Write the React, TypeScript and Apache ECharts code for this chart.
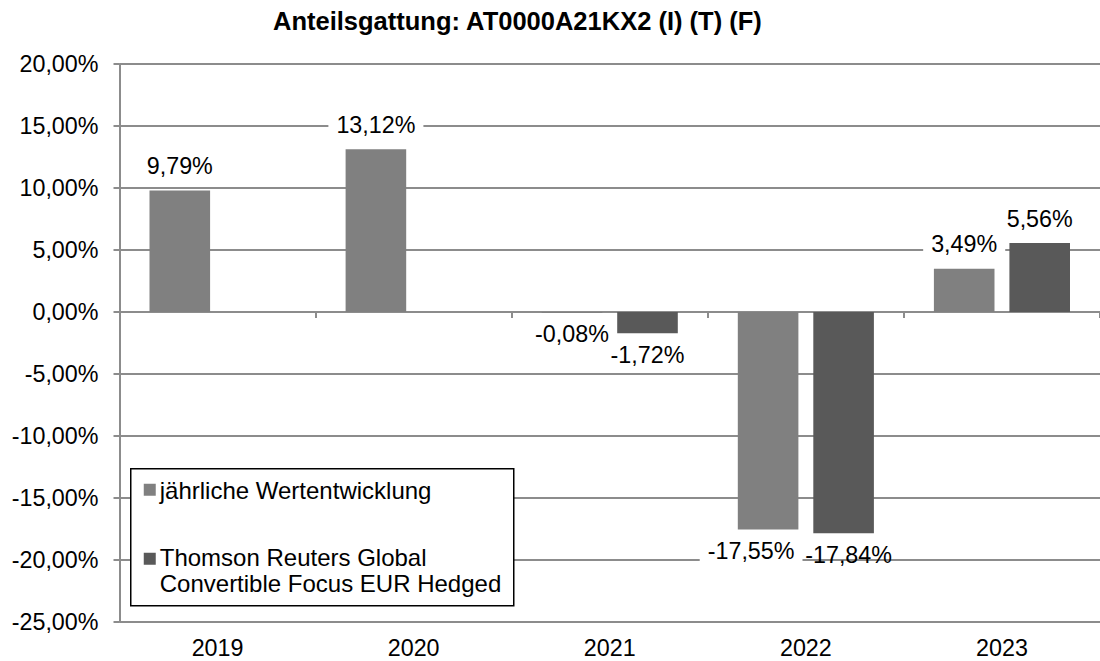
import React, { useEffect, useRef } from "react";
import * as echarts from "echarts";

const categories = ["2019", "2020", "2021", "2022", "2023"];
const seriesNames = ["jährliche Wertentwicklung", "Thomson Reuters Global\nConvertible Focus EUR Hedged"];
const fundValues: (number | null)[] = [9.79, 13.12, -0.08, -17.55, 3.49];
const benchmarkValues: (number | null)[] = [null, null, -1.72, -17.84, 5.56];
const seriesColors = ["#808080", "#595959"];
const titleText = "Anteilsgattung: AT0000A21KX2 (I) (T) (F)";

const FONT = "'Liberation Sans', Arial, Helvetica, sans-serif";
const GRID = "#8c8c8c";

const fmt = (v: number) => v.toFixed(2).replace(".", ",") + "%";

export default function App() {
  const ref = useRef<HTMLDivElement>(null);
  useEffect(() => {
    document.body.style.margin = "0";
    if (!ref.current) return;
    const chart = echarts.init(ref.current, undefined, { renderer: "svg" });

    // Labels of two deep negative bars side by side would collide: nudge apart
    const collide = (i: number) => {
      const a = fundValues[i];
      const b = benchmarkValues[i];
      return a != null && b != null && a < -10 && b < -10;
    };

    const mkData = (arr: (number | null)[], seriesIdx: number) =>
      arr.map((v, i) => {
        const neg = v != null && v < 0;
        const off = collide(i) ? (seriesIdx === 0 ? [-17, 0] : [5, 0]) : [0, 0];
        return {
          value: v == null ? "-" : v,
          label: { position: neg ? "bottom" : "top", distance: neg ? 10 : 13, offset: off },
        };
      });

    const labelBase = {
      show: true,
      fontFamily: FONT,
      fontSize: 23.3,
      color: "#000",
      formatter: (p: any) => (p.value == null || p.value === "-" ? "" : fmt(p.value)),
    };

    chart.setOption({
      animation: false,
      backgroundColor: "#fff",
      title: {
        text: titleText,
        left: 273,
        top: 8,
        padding: 0,
        textStyle: { fontFamily: FONT, fontSize: 25.5, fontWeight: "bold", color: "#000" },
      },
      grid: { left: 119.5, width: 987.5, top: 64, height: 558 },
      xAxis: [
        {
          type: "category",
          data: categories,
          position: "bottom",
          axisLine: { show: false, onZero: false },
          axisTick: { show: false },
          axisLabel: { fontFamily: FONT, fontSize: 23.3, color: "#000", margin: 14 },
          splitLine: { show: false },
        },
        {
          type: "category",
          data: categories,
          position: "top",
          axisLine: { show: true, onZero: true, lineStyle: { color: GRID, width: 2 } },
          axisTick: { show: true, inside: true, length: 6, lineStyle: { color: GRID, width: 2 } },
          axisLabel: { show: false },
          splitLine: { show: false },
        },
      ],
      yAxis: {
        type: "value",
        min: -25,
        max: 20,
        interval: 5,
        axisLine: { show: true, lineStyle: { color: GRID, width: 2 } },
        axisTick: { show: true, length: 6, lineStyle: { color: GRID, width: 2 } },
        axisLabel: {
          fontFamily: FONT,
          fontSize: 23.3,
          color: "#000",
          margin: 21,
          formatter: (v: number) => fmt(v),
        },
        splitLine: { show: true, lineStyle: { color: GRID, width: 2 } },
      },
      series: [
        {
          name: seriesNames[0],
          type: "bar",
          xAxisIndex: 0,
          data: mkData(fundValues, 0),
          barWidth: "30.9%",
          barGap: "24.6%",
          itemStyle: { color: seriesColors[0] },
          label: { ...labelBase, backgroundColor: "#fff", padding: [0, 8] },
        },
        {
          name: seriesNames[1],
          type: "bar",
          xAxisIndex: 0,
          data: mkData(benchmarkValues, 1),
          barWidth: "30.9%",
          barGap: "24.6%",
          itemStyle: { color: seriesColors[1] },
          label: { ...labelBase },
        },
      ],
      graphic: [
        {
          type: "group",
          left: 130,
          top: 468,
          z: 100,
          children: [
            {
              type: "rect",
              z: 100,
              shape: { x: 0, y: 0, width: 383, height: 137 },
              style: { fill: "#fff", stroke: "#000", lineWidth: 1.5 },
            },
            {
              type: "rect",
              z: 101,
              shape: { x: 13, y: 15, width: 12, height: 12 },
              style: { fill: seriesColors[0] },
            },
            {
              type: "text",
              z: 101,
              x: 29,
              y: 22,
              style: {
                text: seriesNames[0],
                fontFamily: FONT,
                fontSize: 24,
                fill: "#000",
                verticalAlign: "middle",
                align: "left",
              },
            },
            {
              type: "rect",
              z: 101,
              shape: { x: 13, y: 84, width: 12, height: 12 },
              style: { fill: seriesColors[1] },
            },
            {
              type: "text",
              z: 101,
              x: 29,
              y: 76,
              style: {
                text: seriesNames[1],
                fontFamily: FONT,
                fontSize: 24,
                lineHeight: 26,
                fill: "#000",
                verticalAlign: "top",
                align: "left",
              },
            },
          ],
        },
      ],
    });
    return () => chart.dispose();
  }, []);
  return <div ref={ref} style={{ width: 1100, height: 661 }} />;
}
